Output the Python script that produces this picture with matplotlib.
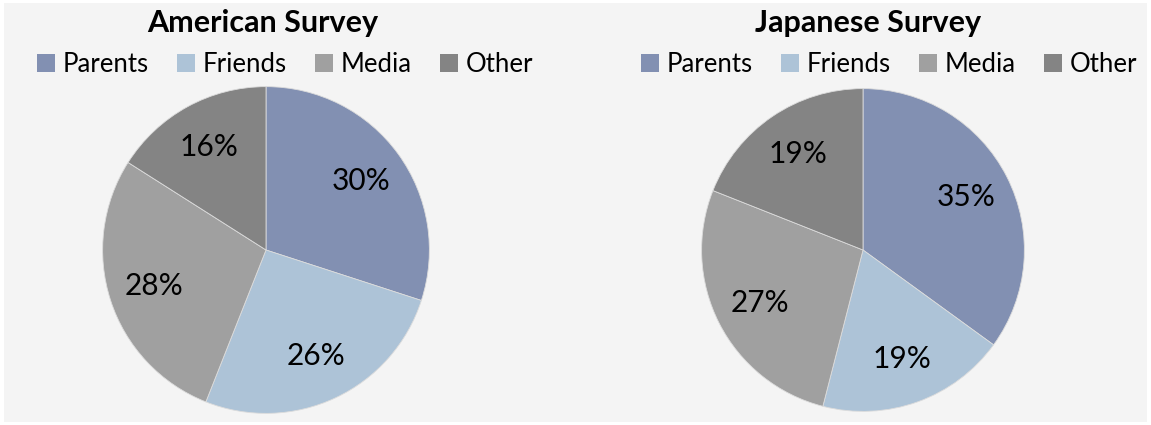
import matplotlib.pyplot as plt
from matplotlib.patches import Rectangle, Patch

plt.rcParams['font.family'] = ['Lato', 'DejaVu Sans']

categories = ["Parents", "Friends", "Media", "Other"]
american = [30, 26, 28, 16]
japanese = [35, 19, 27, 19]
titles = ["American Survey", "Japanese Survey"]
colors = ["#8290b2", "#adc3d7", "#a0a0a0", "#848484"]

fig = plt.figure(figsize=(11.51, 4.25), dpi=100, facecolor="white")
# light panel behind both charts
fig.patches.append(Rectangle((4 / 1151, 3 / 425), 1143 / 1151, 419 / 425,
                             transform=fig.transFigure, facecolor="#f4f4f4",
                             edgecolor="none", zorder=-5))

def drawPie(rect, values, title, titleX, legendX):
    ax = fig.add_axes(rect)
    ax.pie(values, colors=colors, startangle=90, counterclock=False,
           radius=1, autopct=lambda p: "%d%%" % round(p), pctdistance=0.72,
           wedgeprops=dict(edgecolor="#dcdcdc", linewidth=0.6),
           textprops=dict(fontsize=21.5, color="black"))
    ax.set_xlim(-1.01, 1.01)
    ax.set_ylim(-1.01, 1.01)
    ax.set_aspect("equal")
    ax.axis("off")
    fig.text(titleX, 1 - 23 / 425, title, ha="center", va="center",
             fontsize=22, fontweight="bold")
    handles = [Patch(facecolor=c, edgecolor="none") for c in colors]
    fig.legend(handles, categories, loc="center", ncol=4,
               bbox_to_anchor=(legendX, 1 - 64 / 425), frameon=False,
               fontsize=18.5, handlelength=0.7, handleheight=0.7,
               handletextpad=0.3, columnspacing=1.1)

drawPie([101 / 1151, 10 / 425, 330 / 1151, 330 / 425], american, titles[0],
        263 / 1151, 285 / 1151)
drawPie([700 / 1151, 12 / 425, 326 / 1151, 326 / 425], japanese, titles[1],
        868 / 1151, 889 / 1151)

fig.savefig("out.png", dpi=100, facecolor=fig.get_facecolor())
